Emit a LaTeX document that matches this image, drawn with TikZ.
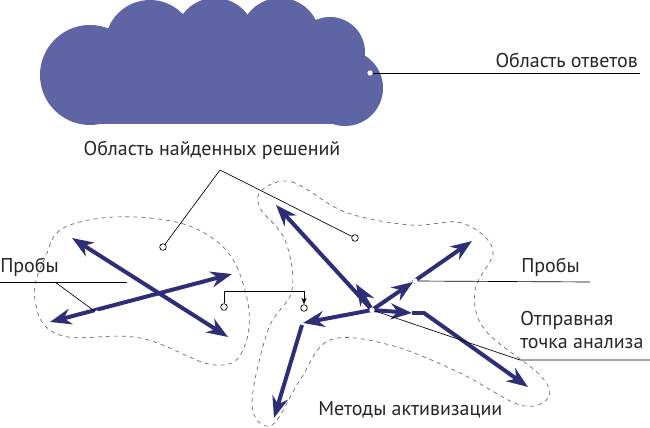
\documentclass[tikz,border=0pt]{standalone}
\usepackage{fontspec}
\setmainfont{PT Sans}
\usetikzlibrary{arrows.meta}
\definecolor{cloudblue}{RGB}{95,100,165}
\definecolor{navy}{RGB}{45,45,120}
\tikzset{
  probe/.style={navy, line width=3pt, -{Stealth[length=16pt,width=12pt]}},
  probeboth/.style={navy, line width=3pt, {Stealth[length=16pt,width=12pt]}-{Stealth[length=16pt,width=12pt]}},
  leader/.style={black, line width=0.5pt},
  blob/.style={gray!80!black, dashed, line width=0.5pt},
  label/.style={font=\fontsize{15}{18}\selectfont, text=black!85, inner sep=0pt},
  ring/.style={draw, fill=white, circle, inner sep=0pt, minimum size=5pt, line width=0.5pt},
  gap/.style={fill=white, circle, inner sep=0pt, minimum size=4pt}
}
\begin{document}
\begin{tikzpicture}[x=0.0264cm, y=-0.0264cm]
\useasboundingbox (0,0) rectangle (650,428);
% cloud
\foreach \cx/\cy/\r in {90/75/50, 150/45/45, 215/38/40, 280/38/40, 330/52/35, 345/88/38}
  \fill[cloudblue] (\cx,\cy) circle (\r);
\fill[cloudblue] (90,30) rectangle (340,124);
\node[gap] (ans) at (370,73) {};
\coordinate (ansr) at (640,73);
\draw[leader] (ans) -- (ansr);
\node[label, anchor=south east] at (638,68) {Область ответов};
% found solutions
\node[label] (found) at (212,150) {Область найденных решений};
\coordinate (fk) at (220,170);
\node[ring] (fl) at (163,247) {};
\node[ring] (fr) at (355,238) {};
\draw[leader] (fk) -- (fl);
\draw[leader] (fk) -- (fr);
% regions
\draw[blob] plot[smooth cycle, tension=0.7] coordinates {(70,225) (150,218) (215,240) (245,290)
  (245,345) (215,365) (140,338) (60,335) (35,300) (45,258)};
\draw[blob] plot[smooth cycle, tension=0.6] coordinates {(262,190) (292,182) (345,212) (410,225)
  (462,223) (493,250) (475,290) (485,330) (540,375) (548,398) (520,405) (460,373) (390,345)
  (330,340) (300,380) (272,425) (252,405) (268,330) (292,290) (285,240) (260,208)};
% left probes
\coordinate (la) at (72,238);
\coordinate (lb) at (228,337);
\coordinate (lc) at (50,322);
\coordinate (ld) at (232,274);
\draw[probeboth] (la) -- (lb);
\draw[probeboth] (lc) -- (ld);
\node[gap] (g1) at (130,282) {};
\node[gap] (g2) at (97,313) {};
\node[label, anchor=south west] (pl) at (0,277) {Пробы};
\coordinate (plr) at (0,282);
\draw[leader] (plr) -- (g1);
\coordinate (pk) at (55,282);
\draw[leader] (pk) -- (g2);
% middle pointer
\node[ring] (m1) at (224,307) {};
\node[ring] (m2) at (304,308) {};
\coordinate (mk1) at (224,291);
\coordinate (mk2) at (304,291);
\draw[leader] (m1) -- (mk1) -- (mk2);
\draw[leader, -{Stealth[length=5pt,width=4pt]}] (mk2) -- (m2);
% right probes
\coordinate (c) at (372,310);
\coordinate (ra) at (276,205);
\coordinate (rm) at (356,284);
\coordinate (rb) at (413,282);
\coordinate (rc) at (472,241);
\coordinate (rd) at (412,313);
\coordinate (re) at (424,313);
\coordinate (rf) at (528,387);
\coordinate (rg) at (303,323);
\coordinate (rh) at (302,325);
\coordinate (ri) at (274,418);
\draw[probe] (c) -- (ra);
\draw[probe] (c) -- (rm);
\draw[probe] (c) -- (rb);
\draw[probe] (rb) -- (rc);
\draw[probe] (c) -- (rd);
\draw[probe] (rd) -- (re) -- (rf);
\draw[probe] (c) -- (rg);
\draw[probe] (rh) -- (ri);
\node[gap] (g3) at (415,281) {};
\node[gap] (cc) at (c) {};
\coordinate (pr) at (590,282);
\draw[leader] (g3) -- (pr);
\node[label, anchor=south west] at (521,277) {Пробы};
\coordinate (sk) at (520,360);
\coordinate (sr) at (650,360);
\draw[leader] (cc) -- (sk) -- (sr);
\node[label, anchor=west, align=left] at (520,330) {Отправная\\точка анализа};
\node[label, anchor=west] at (318,410) {Методы активизации};
\end{tikzpicture}
\end{document}
